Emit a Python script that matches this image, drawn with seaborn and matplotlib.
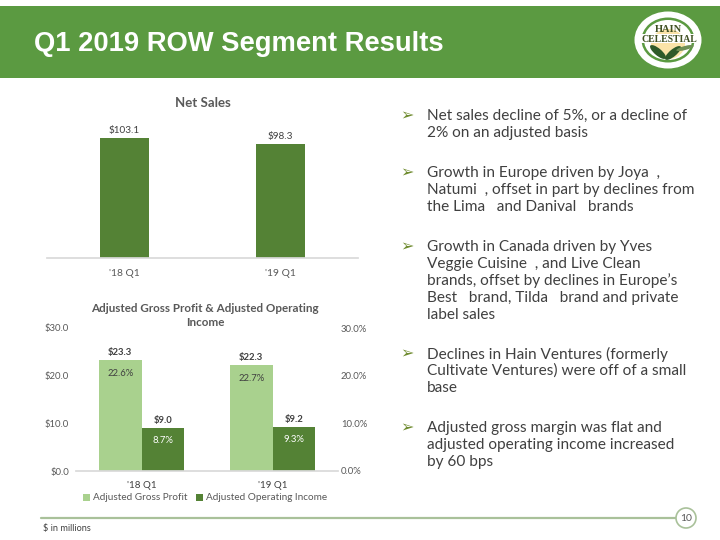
import matplotlib
matplotlib.use("Agg")
import matplotlib.pyplot as plt
from matplotlib.patches import Rectangle, Circle, Ellipse
import pandas as pd
import seaborn as sns

quarters = ["'18 Q1", "'19 Q1"]
net_sales = [103.1, 98.3]
gross_profit = [23.3, 22.3]
operating_income = [9.0, 9.2]
gross_margin = ["22.6%", "22.7%"]
operating_margin = ["8.7%", "9.3%"]
series_names = ["Adjusted Gross Profit", "Adjusted Operating Income"]
bullets = [
    ["Net sales decline of 5%, or a decline of", "2% on an adjusted basis"],
    ["Growth in Europe driven by Joya  ,", "Natumi  , offset in part by declines from", "the Lima   and Danival   brands"],
    ["Growth in Canada driven by Yves", "Veggie Cuisine  , and Live Clean", "brands, offset by declines in Europe\u2019s", "Best   brand, Tilda   brand and private", "label sales"],
    ["Declines in Hain Ventures (formerly", "Cultivate Ventures) were off of a small", "base"],
    ["Adjusted gross margin was flat and", "adjusted operating income increased", "by 60 bps"],
]

LIGHT, DARK, GREY, HEADER = "#A9D18E", "#548235", "#595959", "#5B9A41"
sns.set_theme(style="white", rc={"font.family": ["Lato", "DejaVu Sans"]})
plt.rcParams["font.family"] = ["Lato", "DejaVu Sans"]

W, H = 720, 540
fig = plt.figure(figsize=(W / 100, H / 100), dpi=100, facecolor="white")


def axes_px(x0, x1, y_top, y_bottom, **kw):
    return fig.add_axes([x0 / W, 1 - y_bottom / H, (x1 - x0) / W, (y_bottom - y_top) / H], **kw)


# Slide furniture
bg = axes_px(0, W, 0, H)
bg.set_xlim(0, W)
bg.set_ylim(H, 0)
bg.axis("off")
bg.add_patch(Rectangle((0, 6), W, 72, color=HEADER, lw=0))
bg.text(34, 44, "Q1 2019 ROW Segment Results", color="white", fontsize=19.7, fontweight="bold",
        family="Liberation Sans", va="center", ha="left")

# Logo
bg.add_patch(Ellipse((668, 40), 67, 57, color="white", lw=0))
bg.add_patch(Ellipse((668, 40), 53, 45, color=HEADER, lw=0))
bg.add_patch(Ellipse((668, 40), 48, 40, color="white", lw=0))
bg.add_patch(Ellipse((668, 44), 34, 30, color="#FBE3A8", lw=0))
bg.add_patch(Rectangle((637, 34), 63, 9, color="white", lw=0))
bg.add_patch(Ellipse((658, 52), 20, 7, angle=40, color="#2F5A2A", lw=0))
bg.add_patch(Ellipse((673, 53), 20, 7, angle=-40, color="#2F5A2A", lw=0))
bg.add_patch(Ellipse((685, 48), 18, 4, angle=-15, color="#6F8F55", lw=0))
bg.text(668, 30, "HAIN", family="Liberation Serif", fontweight="bold", fontsize=7.5,
        color="#3F4F22", ha="center", va="center")
bg.text(669, 39, "CELESTIAL", family="Liberation Serif", fontweight="bold", fontsize=7,
        color="#3F4F22", ha="center", va="center")

# Footer
bg.plot([41, 676], [518, 518], color="#A9C19A", lw=1.6)
bg.add_patch(Circle((686, 518), 10, facecolor="white", edgecolor="#A9C19A", lw=1.2, zorder=3))
bg.text(686, 518.5, "10", fontsize=7.5, color=GREY, ha="center", va="center", zorder=4)
bg.text(43, 529, "$ in millions", fontsize=6.6, color="#404040", ha="left", va="center")

# Bullets
starts = [116, 173, 247, 354, 428]
for lines, y0 in zip(bullets, starts):
    bg.text(400, y0, "\u27a2", family="DejaVu Sans", fontsize=11.5, color="#6E8B2E", ha="left", va="center")
    for i, line in enumerate(lines):
        bg.text(427, y0 + i * 17, line, fontsize=11.1, color="#404040", ha="left", va="center")

# Net sales chart
top = axes_px(46.7, 358, 118.3, 258)
top.patch.set_alpha(0)
sns.barplot(x=quarters, y=net_sales, color=DARK, saturation=1, width=0.315, linewidth=0, ax=top)
top.set_ylim(0, 120)
top.set_yticks([])
top.bar_label(top.containers[0], labels=[f"${v:.1f}" for v in net_sales], fontsize=7.2,
              color="#404040", padding=2)
top.tick_params(axis="x", length=0, labelsize=7.4, labelcolor=GREY, pad=8)
sns.despine(ax=top, left=True)
top.spines["bottom"].set_color("#D9D9D9")
bg.text(203, 103, "Net Sales", fontsize=9.5, fontweight="bold", color=GREY, ha="center", va="center")

# Profit chart
low = axes_px(76, 338, 328, 471)
low.patch.set_alpha(0)
frame = pd.DataFrame({
    "quarter": quarters * 2,
    "value": gross_profit + operating_income,
    "series": [series_names[0]] * 2 + [series_names[1]] * 2,
})
sns.barplot(data=frame, x="quarter", y="value", hue="series", palette=[LIGHT, DARK], saturation=1,
            width=0.65, gap=0, linewidth=0, ax=low)
low.set_ylim(0, 30)
low.set_yticks([0, 10, 20, 30])
low.set_yticklabels([f"${v:.1f}" for v in [0, 10, 20, 30]])
low.set_xlabel("")
low.set_ylabel("")
low.tick_params(axis="y", length=0, labelsize=6.8, labelcolor=GREY, pad=5)
low.tick_params(axis="x", length=0, labelsize=7, labelcolor="#404040", pad=7)
sns.despine(ax=low, left=True)
low.spines["bottom"].set_color("#D9D9D9")

low.bar_label(low.containers[0], labels=[f"${v:.1f}" for v in gross_profit], fontsize=6.8,
              fontweight="bold", color="#404040", padding=2)
low.bar_label(low.containers[1], labels=[f"${v:.1f}" for v in operating_income], fontsize=6.8,
              fontweight="bold", color="#404040", padding=2)
low.bar_label(low.containers[0], labels=gross_margin, label_type="edge", padding=-13, fontsize=6.8, color="#404040")
low.bar_label(low.containers[1], labels=operating_margin, label_type="edge", padding=-12, fontsize=6.8, color="white")

right = low.twinx()
right.set_ylim(0, 30)
right.set_yticks([0, 10, 20, 30])
right.set_yticklabels([f"{v:.1f}%" for v in [0, 10, 20, 30]])
right.tick_params(axis="y", length=0, labelsize=6.8, labelcolor=GREY, pad=2)
right.grid(False)
sns.despine(ax=right, left=True, right=True, bottom=True)

handles, labels = low.get_legend_handles_labels()
low.legend(handles, labels, loc="center", bbox_to_anchor=((205 - 76) / 262, (471 - 498) / 143), ncol=2,
           frameon=False, fontsize=7.2, labelcolor=GREY, handlelength=0.7, handleheight=0.7,
           handletextpad=0.3, columnspacing=0.9, borderpad=0)

bg.text(205, 309, "Adjusted Gross Profit & Adjusted Operating", fontsize=8.4, fontweight="bold",
        color=GREY, ha="center", va="center")
bg.text(205, 322, "Income", fontsize=8.4, fontweight="bold", color=GREY, ha="center", va="center")

fig.savefig("out.png", dpi=100, facecolor="white")
